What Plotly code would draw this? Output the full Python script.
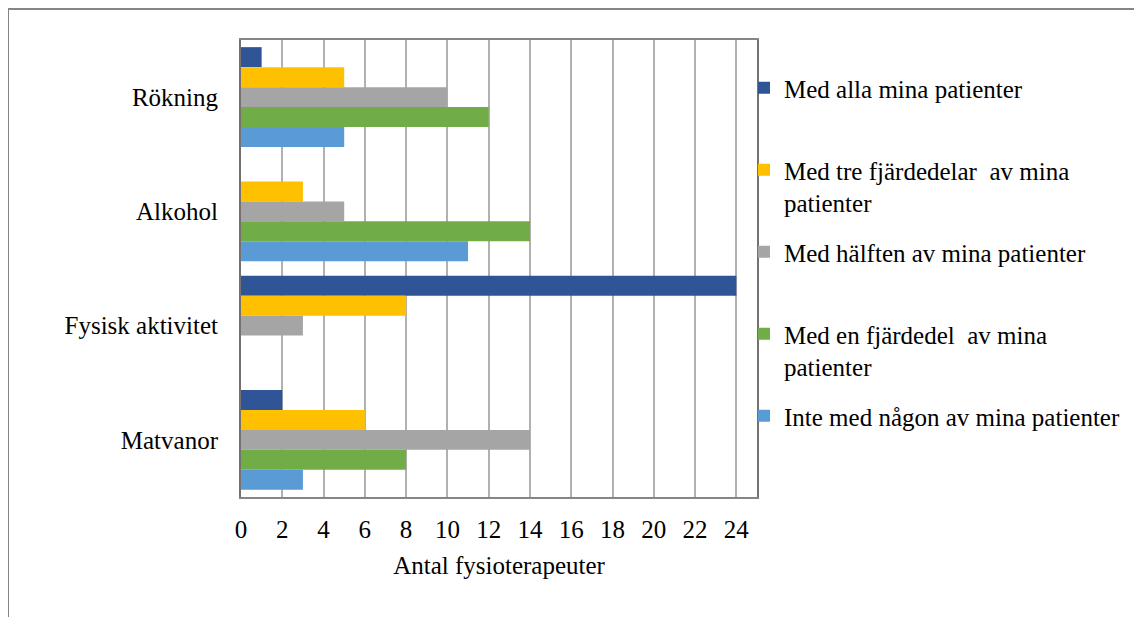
import plotly.graph_objects as go

categories = ["Rökning", "Alkohol", "Fysisk aktivitet", "Matvanor"]
series_names = [
    "Med alla mina patienter",
    "Med tre fjärdedelar  av mina<br>patienter",
    "Med hälften av mina patienter",
    "Med en fjärdedel  av mina<br>patienter",
    "Inte med någon av mina patienter",
]
alla = [1, 0, 24, 2]
tre_fjardedelar = [5, 3, 8, 6]
halften = [10, 5, 3, 14]
en_fjardedel = [12, 14, 0, 8]
inte_nagon = [5, 11, 0, 3]
x_ticks = list(range(0, 25, 2))

colors = ["#2F5597", "#FFC000", "#A5A5A5", "#70AD47", "#5B9BD5"]
values = [alla, tre_fjardedelar, halften, en_fjardedel, inte_nagon]

FONT = "Liberation Serif"
FS = 25
OFF = 8  # page body margin
W, H = 1142 - OFF, 617 - OFF
L, R, T, B = 241 - OFF, 757 - OFF, 40 - OFF, 497 - OFF

fig = go.Figure()
for i, (name, vals, col) in enumerate(zip(series_names, values, colors)):
    label = name if "<br>" in name else name + "<br>\u00a0"
    fig.add_trace(go.Bar(
        y=categories, x=vals, name=label, orientation="h",
        marker=dict(color=col, line=dict(width=0)),
        legendgroup=f"g{i}",
    ))

pw, ph = R - L, B - T
fig.update_layout(
    width=W, height=H,
    margin=dict(l=L, r=W - R, t=T, b=H - B, autoexpand=False),
    paper_bgcolor="white", plot_bgcolor="white",
    barmode="group", bargap=0.125, bargroupgap=0,
    font=dict(family=FONT, size=FS, color="#000000"),
    showlegend=True,
    legend=dict(
        x=(744 - OFF - L) / pw, xanchor="left",
        y=(B - (65 - OFF)) / ph, yanchor="top",
        valign="top", tracegroupgap=14,
        font=dict(family=FONT, size=FS, color="#000000"),
        bgcolor="rgba(0,0,0,0)",
        itemclick=False,
    ),
    xaxis=dict(
        range=[0, 25], tickmode="array", tickvals=x_ticks,
        ticktext=[str(v) for v in x_ticks],
        showgrid=True, gridcolor="#B3B0B0", gridwidth=2,
        showline=True, linecolor="#868686", linewidth=2, mirror=True,
        ticks="outside", ticklen=9, tickcolor="rgba(0,0,0,0)",
        zeroline=False, fixedrange=True,
        title=dict(text="Antal fysioterapeuter", standoff=14,
                   font=dict(family=FONT, size=FS, color="#000000")),
        tickfont=dict(family=FONT, size=FS, color="#000000"),
    ),
    yaxis=dict(
        autorange="reversed", type="category",
        showgrid=False,
        showline=True, linecolor="#767171", linewidth=2, mirror=True,
        ticks="outside", ticklen=16, tickcolor="rgba(0,0,0,0)",
        fixedrange=True,
        tickfont=dict(family=FONT, size=FS, color="#000000"),
    ),
    shapes=[dict(
        type="rect", xref="paper", yref="paper",
        x0=(8 - OFF - L) / pw, x1=(1140 - OFF - L) / pw,
        y0=(B - 640) / ph, y1=(B - (9 - OFF)) / ph,
        line=dict(color="#868686", width=2), fillcolor="rgba(0,0,0,0)",
        layer="below",
    )],
)

fig.write_html("out.html")
